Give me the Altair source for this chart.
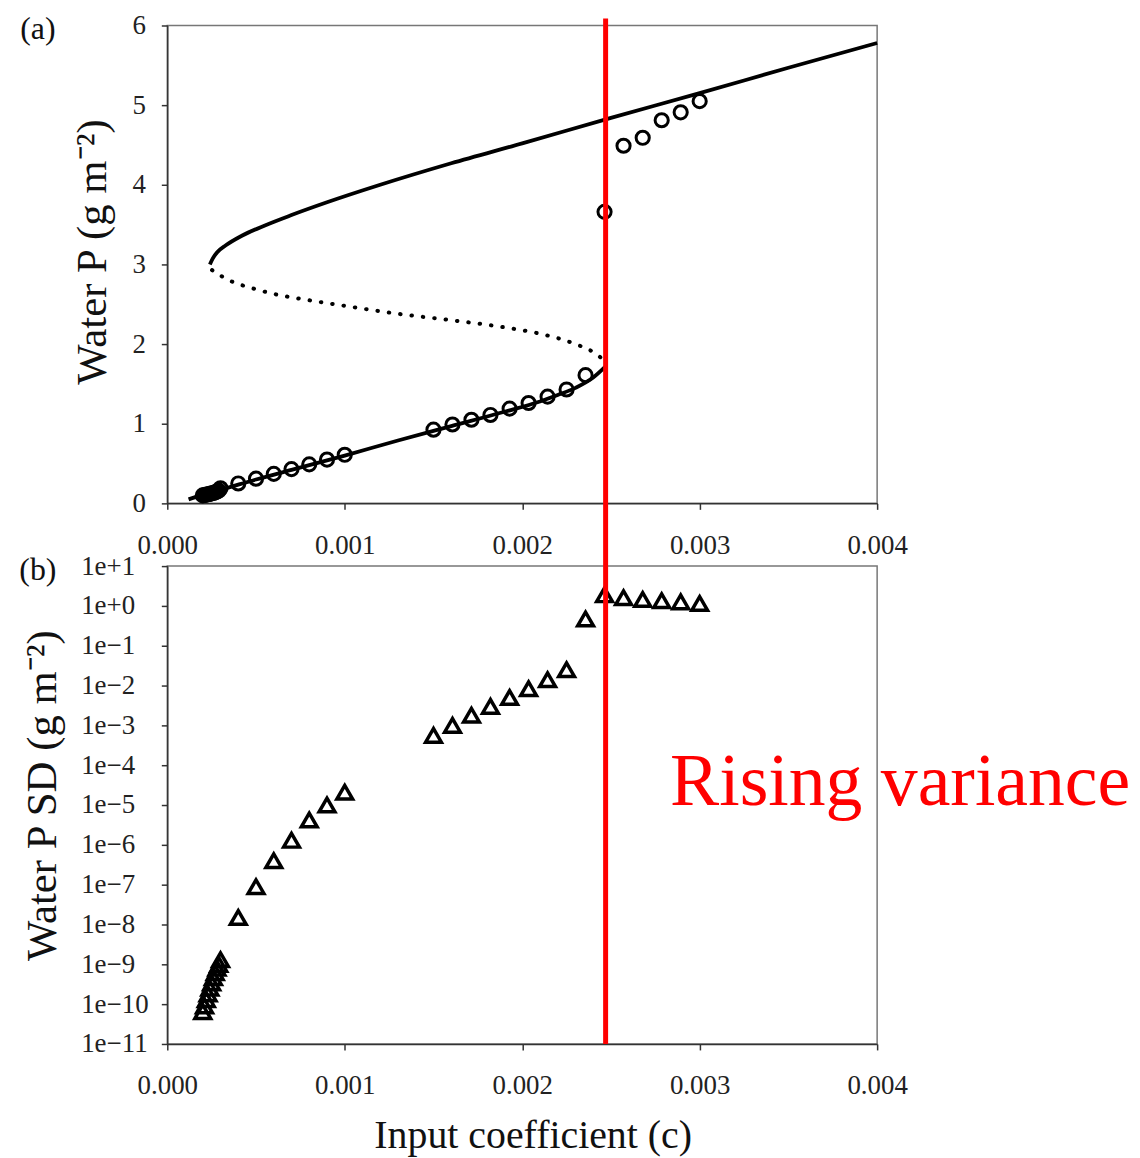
import altair as alt
import pandas as pd

# ---------------- data ----------------
X_TICKS = [0.0, 0.001, 0.002, 0.003, 0.004]
Y_TICKS_A = [0, 1, 2, 3, 4, 5, 6]
Y_TICKS_B = [1e-11, 1e-10, 1e-9, 1e-8, 1e-7, 1e-6, 1e-5, 1e-4, 1e-3, 1e-2, 1e-1, 1e0, 1e1]

# stable upper branch (solid)
upper_c = [0.00024, 0.000255, 0.00028, 0.00033, 0.00042, 0.00055, 0.0007, 0.0009, 0.0012, 0.0016, 0.002, 0.0025, 0.003, 0.0035, 0.004]
upper_p = [3.00, 3.07, 3.15, 3.24, 3.36, 3.49, 3.62, 3.78, 4.00, 4.27, 4.52, 4.84, 5.15, 5.47, 5.78]

# unstable middle branch (dotted)
middle_c = [0.000252, 0.0003, 0.00036, 0.00048, 0.0006, 0.0008, 0.001, 0.0013, 0.0016, 0.0019, 0.0021, 0.0023, 0.0024, 0.00247]
middle_p = [2.93, 2.86, 2.79, 2.70, 2.63, 2.55, 2.48, 2.38, 2.30, 2.21, 2.13, 2.00, 1.90, 1.78]

# stable lower branch (solid)
lower_c = [0.00012, 0.0002, 0.0003, 0.0005, 0.0007, 0.001, 0.0013, 0.0016, 0.0019, 0.0021, 0.0022, 0.0023, 0.0024, 0.00247]
lower_p = [0.05, 0.11, 0.17, 0.30, 0.42, 0.60, 0.79, 0.97, 1.15, 1.28, 1.36, 1.45, 1.58, 1.72]

# simulated points (c, mean water P, SD of water P)
sim_c = [0.00020, 0.00021, 0.00022, 0.00023, 0.00024, 0.00025, 0.00026, 0.00027, 0.00028, 0.00029,
         0.0003, 0.0004, 0.0005, 0.0006, 0.0007, 0.0008, 0.0009, 0.001,
         0.0015, 0.001607, 0.001714, 0.001821, 0.001929, 0.002036, 0.002143, 0.00225, 0.002357,
         0.002464, 0.002571, 0.002679, 0.002786, 0.002893, 0.003]
sim_p = [0.10, 0.105, 0.11, 0.115, 0.12, 0.125, 0.13, 0.14, 0.15, 0.16,
         0.19, 0.25, 0.31, 0.37, 0.43, 0.49, 0.55, 0.61,
         0.925, 0.99, 1.05, 1.11, 1.19, 1.26, 1.34, 1.43, 1.61,
         3.66, 4.49, 4.59, 4.81, 4.91, 5.05]
sim_sd = [6.5e-11, 9e-11, 1.3e-10, 1.8e-10, 2.5e-10, 3.4e-10, 4.6e-10, 6.2e-10, 8e-10, 1.0e-9,
          1.3e-9, 1.5e-8, 8.9e-8, 4.0e-7, 1.3e-6, 4.2e-6, 1.0e-5, 2.1e-5,
          5.6e-4, 1.0e-3, 1.8e-3, 3.0e-3, 5.0e-3, 8.3e-3, 1.4e-2, 2.5e-2, 4.7e-1,
          1.9, 1.6, 1.45, 1.35, 1.26, 1.15]

TIP_C = 0.00247
ANNOT_C = 0.002833
ANNOT_SD = 1e-5

# ---------------- layout / style ----------------
FONT = "Liberation Serif"
W, H = 713, 480
GAP = 63

xscale = alt.Scale(domain=[0, 0.004], nice=False, zero=False)


def x_enc(title=None, title_kw=None):
    kw = dict(values=X_TICKS, format=".3f", labelPadding=23, labelFlush=False)
    if title is None:
        kw["title"] = None
    else:
        kw["title"] = title
        kw.update(title_kw or {})
    return alt.X("c:Q", scale=xscale, axis=alt.Axis(**kw))


ya_scale = alt.Scale(domain=[0, 6], nice=False)
ya_axis = alt.Axis(values=Y_TICKS_A, format="d", title="Water P (g m⁻²)",
                   labelPadding=16, titleX=-75, titleY=227, titleAngle=-90,
                   titleFontSize=43,
                   titleBaseline="middle", titleAlign="center")

up_df = pd.DataFrame({"c": upper_c, "p": upper_p})
mid_df = pd.DataFrame({"c": middle_c, "p": middle_p})
low_df = pd.DataFrame({"c": lower_c, "p": lower_p})
sim_df = pd.DataFrame({"c": sim_c, "p": sim_p, "sd": sim_sd})

line_upper = alt.Chart(up_df).mark_line(color="black", strokeWidth=3.8, interpolate="monotone").encode(
    x=x_enc(), y=alt.Y("p:Q", scale=ya_scale, axis=ya_axis))
line_mid = alt.Chart(mid_df).mark_line(color="black", strokeWidth=4, strokeDash=[0.5, 11],
                                       strokeCap="round", interpolate="monotone").encode(
    x=x_enc(), y=alt.Y("p:Q", scale=ya_scale, axis=ya_axis))
line_low = alt.Chart(low_df).mark_line(color="black", strokeWidth=3.8, interpolate="monotone").encode(
    x=x_enc(), y=alt.Y("p:Q", scale=ya_scale, axis=ya_axis))
pts_top = alt.Chart(sim_df).mark_point(shape="circle", filled=False, color="black",
                                       size=175, strokeWidth=3, opacity=1).encode(
    x=x_enc(), y=alt.Y("p:Q", scale=ya_scale, axis=ya_axis))
label_a = alt.Chart(pd.DataFrame({"t": ["(a)"]})).mark_text(
    font=FONT, fontSize=32, color="#111", align="center", baseline="middle").encode(
    x=alt.value(-130), y=alt.value(4), text="t:N")

top = alt.layer(line_upper, line_mid, line_low, pts_top, label_a).properties(width=W, height=H)

yb_scale = alt.Scale(type="log", domain=[1e-11, 10], nice=False)
yb_axis = alt.Axis(values=Y_TICKS_B, labelExpr="replace(format(datum.value, '.0e'), '-', '−')",
                   title="Water P SD (g m⁻²)", labelAlign="left", labelPadding=81,
                   titleX=-125, titleY=230, titleAngle=-90, titleFontSize=43,
                   titleBaseline="middle", titleAlign="center")

tri = alt.Chart(sim_df).mark_point(shape="triangle-up", filled=False, color="black",
                                   size=250, strokeWidth=3.5, opacity=1).encode(
    x=x_enc("Input coefficient (c)", dict(titleX=367, titleY=92, titleBaseline="middle",
                                          titleAlign="center", titleFontSize=40)),
    y=alt.Y("sd:Q", scale=yb_scale, axis=yb_axis))

annot = alt.Chart(pd.DataFrame({"t": ["Rising variance"]})).mark_text(
    font=FONT, fontSize=74, color="#ff0000", align="left", baseline="alphabetic").encode(
    x=alt.datum(ANNOT_C), y=alt.datum(ANNOT_SD), text="t:N")

red_rule = alt.Chart(pd.DataFrame({"c": [TIP_C]})).mark_rule(color="#ff0000", strokeWidth=5).encode(
    x=alt.X("c:Q", scale=xscale), y=alt.value(-(H + GAP + 7)), y2=alt.value(H))

label_b = alt.Chart(pd.DataFrame({"t": ["(b)"]})).mark_text(
    font=FONT, fontSize=32, color="#111", align="center", baseline="middle").encode(
    x=alt.value(-130), y=alt.value(4), text="t:N")

bottom = alt.layer(tri, annot, red_rule, label_b).properties(width=W, height=H)

chart = alt.vconcat(top, bottom, spacing=GAP, bounds="flush").properties(
    padding={"left": 10, "top": 0, "right": 0, "bottom": 5},
    background="white",
).configure_view(
    stroke="#777", strokeWidth=1.5
).configure_axis(
    labelFont=FONT, labelFontSize=27, labelColor="#222",
    titleFont=FONT, titleFontSize=38, titleFontWeight="normal", titleColor="#111",
    tickColor="#333", tickSize=6, tickWidth=1.5,
    domainColor="#333", domainWidth=1.5, grid=False,
)

chart.save("out.html", embed_options={"renderer": "svg", "actions": False})
